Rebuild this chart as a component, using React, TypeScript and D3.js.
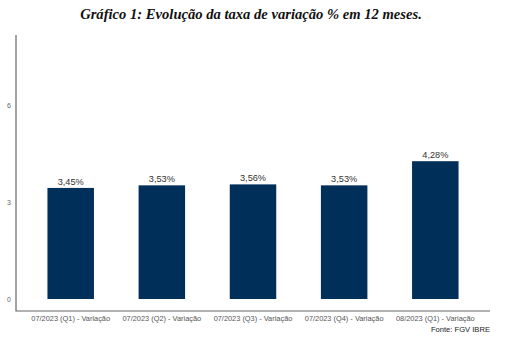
import React from 'react';
import { useRef, useEffect } from 'react';
import * as d3 from 'd3';

const categories = [
  '07/2023 (Q1) - Variação',
  '07/2023 (Q2) - Variação',
  '07/2023 (Q3) - Variação',
  '07/2023 (Q4) - Variação',
  '08/2023 (Q1) - Variação',
];
const values = [3.45, 3.53, 3.56, 3.53, 4.28];
const yTicks = [0, 3, 6];

export default function App() {
  const svgRef = useRef<SVGSVGElement>(null);

  useEffect(() => {
    document.body.style.margin = '0';
    const w = 507;
    const h = 351;
    const svg = d3.select(svgRef.current).attr('width', w).attr('height', h);
    svg.selectAll('*').remove();

    const x = d3.scalePoint<string>().domain(categories).range([16, 490]).padding(0.6);
    const y = d3.scaleLinear().domain([0, 8.2]).range([299, 35]);
    const bw = x.step() * 0.51;

    // title
    svg
      .append('text')
      .attr('x', 251)
      .attr('y', 19)
      .attr('text-anchor', 'middle')
      .style('font-family', '"Liberation Serif", "DejaVu Serif", serif')
      .style('font-weight', 'bold')
      .style('font-style', 'italic')
      .style('font-size', '14.6px')
      .style('fill', '#111')
      .text('Gráfico 1: Evolução da taxa de variação % em 12 meses.');

    // bars
    svg
      .selectAll('rect.bar')
      .data(values)
      .join('rect')
      .attr('class', 'bar')
      .attr('x', (d, i) => x(categories[i])! - bw / 2)
      .attr('y', (d) => y(d))
      .attr('width', bw)
      .attr('height', (d) => y(0) - y(d))
      .attr('fill', '#002f5a');

    // value labels
    svg
      .selectAll('text.val')
      .data(values)
      .join('text')
      .attr('class', 'val')
      .attr('x', (d, i) => x(categories[i])!)
      .attr('y', (d) => y(d) - 3)
      .attr('text-anchor', 'middle')
      .style('font-family', '"Liberation Sans", Arial, sans-serif')
      .style('font-size', '9.2px')
      .style('fill', '#333')
      .text((d) => d.toFixed(2).replace('.', ',') + '%');

    // y tick labels
    svg
      .selectAll('text.ytick')
      .data(yTicks)
      .join('text')
      .attr('class', 'ytick')
      .attr('x', 11)
      .attr('y', (d) => y(d) + 2.5)
      .attr('text-anchor', 'end')
      .style('font-family', '"Liberation Sans", Arial, sans-serif')
      .style('font-size', '7px')
      .style('fill', '#666')
      .text((d) => d);

    // x tick labels
    svg
      .selectAll('text.xtick')
      .data(categories)
      .join('text')
      .attr('class', 'xtick')
      .attr('x', (d) => x(d)!)
      .attr('y', 321)
      .attr('text-anchor', 'middle')
      .style('font-family', '"Liberation Sans", Arial, sans-serif')
      .style('font-size', '7.4px')
      .style('fill', '#555')
      .text((d) => d);

    // axis lines
    svg
      .append('path')
      .attr('d', 'M16,35V311H490')
      .attr('fill', 'none')
      .attr('stroke', '#666')
      .attr('stroke-width', 1.2);

    // caption
    svg
      .append('text')
      .attr('x', 490)
      .attr('y', 332)
      .attr('text-anchor', 'end')
      .style('font-family', '"Liberation Sans", Arial, sans-serif')
      .style('font-size', '7.6px')
      .style('fill', '#222')
      .text('Fonte: FGV IBRE');
  }, []);

  return <svg ref={svgRef} style={{ display: 'block', background: '#fff' }}></svg>;
}
